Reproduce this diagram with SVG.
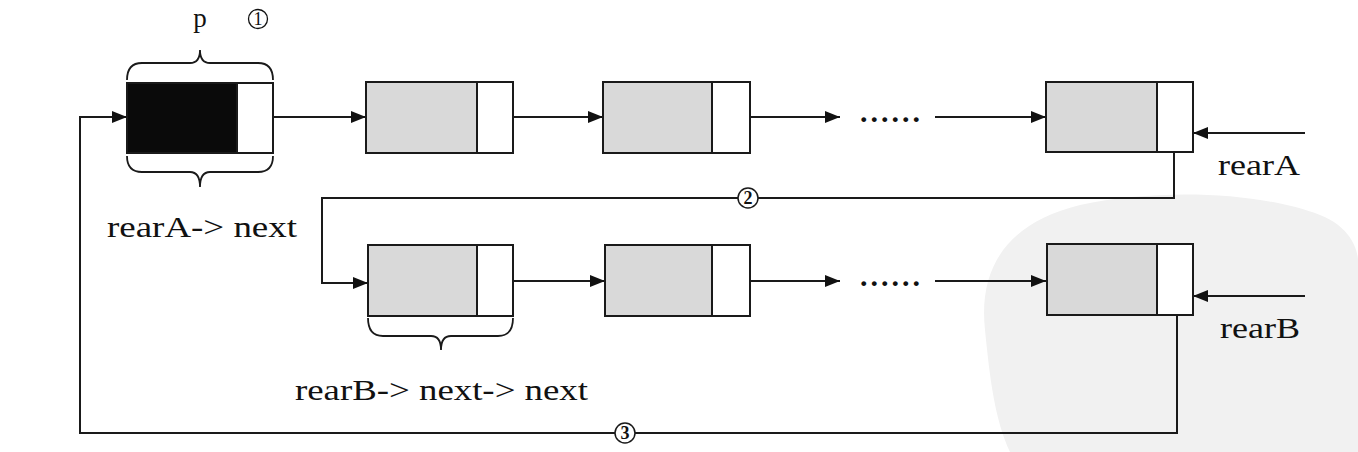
<svg xmlns="http://www.w3.org/2000/svg" width="1358" height="452" viewBox="0 0 1358 452">
<style>
.box{fill:#fff;stroke:#1a1a1a;stroke-width:2}
.data{fill:#d9d9d9;stroke:#1a1a1a;stroke-width:2}
.blk{fill:#0a0a0a;stroke:#0a0a0a;stroke-width:2}
.ln{fill:none;stroke:#1a1a1a;stroke-width:2}
.br{fill:none;stroke:#1a1a1a;stroke-width:1.8}
text{font-family:'Liberation Serif','DejaVu Serif',serif;fill:#111}
.t{font-size:30px}
.n{font-size:18px;font-weight:bold;text-anchor:middle}
.dots{font-size:30px;font-weight:bold;letter-spacing:3px}
.cir{fill:#fff;stroke:#1a1a1a;stroke-width:1.5}
</style>
<defs>
<marker id="ah" markerUnits="userSpaceOnUse" markerWidth="16" markerHeight="14" refX="15" refY="7" orient="auto">
<path d="M0,1 L15,7 L0,13 z" fill="#111"/>
</marker>
</defs>
<rect width="1358" height="452" fill="#fff"/>
<path d="M985,330 C978,265 1010,222 1080,205 C1160,188 1260,192 1320,215 C1358,230 1358,260 1358,260 L1358,452 L1010,452 C995,420 990,380 985,330 z" fill="#f1f1f1"/>

<g id="connectors">
  <line class="ln" x1="255" y1="117" x2="366" y2="117" marker-end="url(#ah)"/>
  <line class="ln" x1="493" y1="117" x2="603" y2="117" marker-end="url(#ah)"/>
  <line class="ln" x1="730" y1="117" x2="840" y2="117" marker-end="url(#ah)"/>
  <line class="ln" x1="935" y1="117" x2="1046" y2="117" marker-end="url(#ah)"/>
  <line class="ln" x1="1305" y1="133" x2="1193" y2="133" marker-end="url(#ah)"/>
  <polyline class="ln" points="1174,118 1174,198 322,198 322,283 368,283" marker-end="url(#ah)"/>
  <line class="ln" x1="493" y1="281" x2="605" y2="281" marker-end="url(#ah)"/>
  <line class="ln" x1="730" y1="281" x2="840" y2="281" marker-end="url(#ah)"/>
  <line class="ln" x1="935" y1="281" x2="1046" y2="281" marker-end="url(#ah)"/>
  <line class="ln" x1="1305" y1="296" x2="1193" y2="296" marker-end="url(#ah)"/>
  <polyline class="ln" points="1177,281 1177,433 80,433 80,117 127,117" marker-end="url(#ah)"/>
  <text class="dots" x="860" y="122">......</text>
  <text class="dots" x="860" y="286">......</text>
  <g id="label2">
    <circle class="cir" cx="748" cy="198" r="10"/>
    <text class="n" x="748" y="204">2</text>
  </g>
  <g id="label3">
    <circle class="cir" cx="625" cy="433" r="10"/>
    <text class="n" x="625" y="439">3</text>
  </g>
</g>

<g id="nodeA0">
  <rect class="blk" x="127" y="83" width="110" height="70"/>
  <rect class="box" x="237" y="83" width="36" height="70"/>
  <rect x="127" y="83" width="146" height="70" fill="none" stroke="#1a1a1a" stroke-width="2"/>
  <path class="br" d="M127,80 Q127,63 142,63 L190,63 Q200,63 200,50 Q200,63 210,63 L258,63 Q273,63 273,80"/>
  <path class="br" d="M127,156 Q127,172 142,172 L190,172 Q200,172 200,187 Q200,172 210,172 L258,172 Q273,172 273,156"/>
  <text x="200" y="27" text-anchor="middle" style="font-size:27px">p</text>
  <circle cx="258" cy="19" r="9.5" fill="none" stroke="#111" stroke-width="1.3"/>
  <text class="n" x="258" y="25" style="font-weight:normal">1</text>
  <text class="t" x="107" y="237" textLength="190" lengthAdjust="spacingAndGlyphs">rearA-&gt; next</text>
</g>
<g id="nodeA1">
  <rect class="data" x="366" y="82" width="111" height="71"/>
  <rect class="box" x="477" y="82" width="36" height="71"/>
</g>
<g id="nodeA2">
  <rect class="data" x="603" y="82" width="109" height="71"/>
  <rect class="box" x="712" y="82" width="38" height="71"/>
</g>
<g id="nodeA3">
  <rect class="data" x="1046" y="82" width="111" height="70"/>
  <rect class="box" x="1157" y="82" width="36" height="70"/>
  <text class="t" x="1218" y="175" textLength="82" lengthAdjust="spacingAndGlyphs">rearA</text>
</g>
<g id="nodeB0">
  <rect class="data" x="368" y="245" width="109" height="71"/>
  <rect class="box" x="477" y="245" width="36" height="71"/>
  <path class="br" d="M368,318 Q368,336 383,336 L431,336 Q441,336 441,350 Q441,336 451,336 L498,336 Q513,336 513,318"/>
  <text class="t" x="295" y="400" textLength="293" lengthAdjust="spacingAndGlyphs">rearB-&gt; next-&gt; next</text>
</g>
<g id="nodeB1">
  <rect class="data" x="605" y="245" width="107" height="71"/>
  <rect class="box" x="712" y="245" width="38" height="71"/>
</g>
<g id="nodeB2">
  <rect class="data" x="1047" y="244" width="110" height="71"/>
  <rect class="box" x="1157" y="244" width="36" height="71"/>
  <text class="t" x="1220" y="338" textLength="80" lengthAdjust="spacingAndGlyphs">rearB</text>
</g>
</svg>
